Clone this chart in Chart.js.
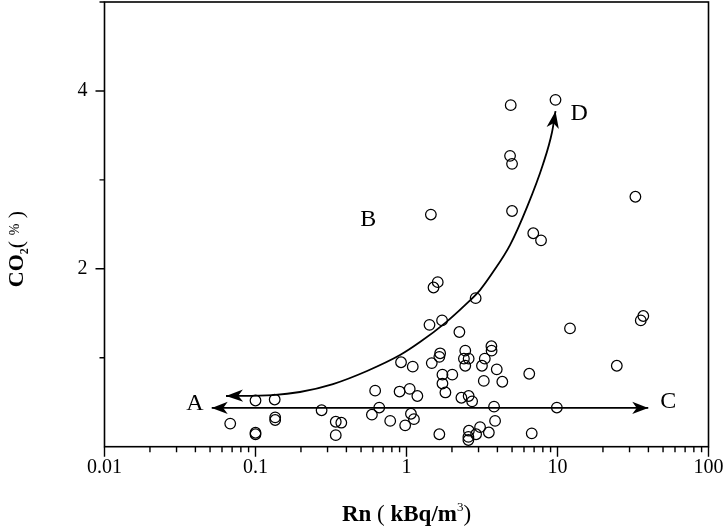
<!DOCTYPE html>
<html>
<head>
<meta charset="utf-8">
<title>Rn vs CO2</title>
<script src="https://cdn.jsdelivr.net/npm/chart.js@4.4.0/dist/chart.umd.min.js"></script>
<style>
  html, body { margin: 0; padding: 0; background: #fff; }
  canvas { display: block; }
</style>
</head>
<body>
<canvas id="rnChart" width="726" height="527"></canvas>
<script>
// ---- data ----
const rnKBq = [0.068, 0.100, 0.134, 0.135, 0.135, 0.100, 0.100, 0.274, 0.34, 0.37,
    0.34, 0.62, 0.66, 0.59, 0.78, 0.92, 1.10, 0.90, 1.05, 1.18,
    1.07, 1.12, 0.98, 1.47, 1.67, 1.65, 1.73, 2.01, 1.73, 1.81,
    2.45, 2.40, 2.58, 2.45, 3.65, 3.66, 3.30, 3.16, 3.96, 3.25,
    4.31, 2.31, 2.58, 2.72, 3.80, 3.86, 3.07, 2.59, 2.89, 3.51,
    2.57, 2.57, 1.65, 6.5, 6.75, 9.9, 12.1, 24.7, 35.6, 37.0,
    32.8, 1.42, 1.72, 2.24, 2.87, 1.61, 1.51, 1.45, 4.90, 9.7,
    4.85, 5.0, 5.0, 6.91, 7.78];
const co2Pct = [0.26, 0.52, 0.53, 0.33, 0.30, 0.157, 0.14, 0.41, 0.28, 0.27,
    0.13, 0.63, 0.44, 0.36, 0.29, 0.95, 0.90, 0.62, 0.65, 0.57,
    0.37, 0.31, 0.24, 0.94, 1.05, 1.01, 0.81, 0.81, 0.71, 0.61,
    1.08, 0.99, 0.99, 0.91, 1.13, 1.08, 0.99, 0.91, 0.87, 0.74,
    0.73, 0.55, 0.57, 0.51, 0.45, 0.29, 0.22, 0.18, 0.14, 0.16,
    0.11, 0.075, 0.14, 0.82, 0.15, 0.44, 1.33, 0.91, 1.42, 1.47,
    2.81, 1.37, 1.42, 1.29, 1.67, 1.85, 1.79, 2.61, 3.84, 3.90,
    3.27, 3.18, 2.65, 2.40, 2.32];

// curved arrow A <- ... -> D
const curveRn = [0.0638, 0.1306, 0.197, 0.326, 0.548, 0.906, 1.228, 1.799, 2.44, 3.068, 3.74, 4.846, 6.281, 8.017, 9.196, 9.70];
const curveCo2 = [0.570, 0.581, 0.615, 0.704, 0.851, 1.030, 1.176, 1.390, 1.592, 1.761, 1.963, 2.266, 2.693, 3.176, 3.536, 3.772];

// straight arrow A <-> C
const lineRn = [0.0513, 39.9];
const lineCo2 = [0.436, 0.436];

// letters
const noteText = ["A", "B", "C", "D"];
const noteRn = [0.0397, 0.558, 54.2, 13.94];
const noteCo2 = [0.488, 2.547, 0.506, 3.746];

// axes
const xMajorTicks = [0.01, 0.1, 1, 10, 100];
const xTickLabels = ["0.01", "0.1", "1", "10", "100"];
const yLabelTicks = [2, 4];
const yMinorTicks = [1, 3, 5];

const SERIF = '"Liberation Serif", "Times New Roman", serif';

// ---- helpers ----
function toXY(xs, ys) {
    return xs.map((x, i) => ({ x: x, y: ys[i] }));
}

function arrowHead(ctx, tip, from, len, half) {
    const ang = Math.atan2(tip.y - from.y, tip.x - from.x);
    ctx.save();
    ctx.translate(tip.x, tip.y);
    ctx.rotate(ang);
    ctx.beginPath();
    ctx.moveTo(0, 0);
    ctx.lineTo(-len, -half);
    ctx.lineTo(-len * 0.72, 0);
    ctx.lineTo(-len, half);
    ctx.closePath();
    ctx.fill();
    ctx.restore();
}

// draws a list of text runs (mixed fonts / sub / superscripts) centred on x
function drawRuns(ctx, runs, cx, baseY) {
    let total = 0;
    runs.forEach(r => { ctx.font = r.font; r.w = ctx.measureText(r.t).width; total += r.w; });
    let x = cx - total / 2;
    ctx.textAlign = "left";
    ctx.textBaseline = "alphabetic";
    runs.forEach(r => {
        ctx.font = r.font;
        ctx.fillText(r.t, x, baseY + (r.dy || 0));
        x += r.w;
    });
}

// ---- frame, ticks, arrows, notes, axis titles ----
const framePlugin = {
    id: "frame",
    afterDraw(chart) {
        const ctx = chart.ctx;
        const xs = chart.scales.x;
        const ys = chart.scales.y;
        const { left, right, top, bottom } = chart.chartArea;

        ctx.save();
        ctx.strokeStyle = "#000";
        ctx.fillStyle = "#000";

        // box
        ctx.lineWidth = 1.6;
        ctx.strokeRect(left, top, right - left, bottom - top);

        // x ticks
        ctx.lineWidth = 1.4;
        ctx.beginPath();
        xMajorTicks.forEach(v => {
            const px = xs.getPixelForValue(v);
            ctx.moveTo(px, bottom);
            ctx.lineTo(px, bottom + 10);
        });
        for (let k = 0; k < xMajorTicks.length - 1; k++) {
            for (let m = 2; m <= 9; m++) {
                const px = xs.getPixelForValue(m * xMajorTicks[k]);
                ctx.moveTo(px, bottom);
                ctx.lineTo(px, bottom + 5.5);
            }
        }
        // y ticks
        yLabelTicks.forEach(v => {
            const py = ys.getPixelForValue(v);
            ctx.moveTo(left, py);
            ctx.lineTo(left - 9, py);
        });
        yMinorTicks.forEach(v => {
            const py = ys.getPixelForValue(v);
            ctx.moveTo(left, py);
            ctx.lineTo(left - 5, py);
        });
        ctx.stroke();

        // arrow heads
        const px = (x, y) => ({ x: xs.getPixelForValue(x), y: ys.getPixelForValue(y) });
        const n = curveRn.length;
        arrowHead(ctx, px(curveRn[0], curveCo2[0]), px(curveRn[1], curveCo2[1]), 17, 6.2);
        arrowHead(ctx, px(curveRn[n - 1], curveCo2[n - 1]), px(curveRn[n - 2], curveCo2[n - 2]), 17, 6.2);
        arrowHead(ctx, px(lineRn[0], lineCo2[0]), px(lineRn[1], lineCo2[1]), 16, 6.2);
        arrowHead(ctx, px(lineRn[1], lineCo2[1]), px(lineRn[0], lineCo2[0]), 16, 6.2);

        // letters
        ctx.font = "24px " + SERIF;
        ctx.textAlign = "center";
        ctx.textBaseline = "middle";
        noteText.forEach((t, i) => {
            const p = px(noteRn[i], noteCo2[i]);
            ctx.fillText(t, p.x, p.y);
        });

        // x title
        drawRuns(ctx, [
            { t: "Rn", font: "bold 23px " + SERIF },
            { t: " ( ", font: "23px " + SERIF },
            { t: "kBq/m", font: "bold 23px " + SERIF },
            { t: "3", font: "13px " + SERIF, dy: -10 },
            { t: ")", font: "23px " + SERIF }
        ], (left + right) / 2, 521);

        // y title (rotated)
        ctx.save();
        ctx.translate(23, 249);
        ctx.rotate(-Math.PI / 2);
        drawRuns(ctx, [
            { t: "CO", font: "bold 22px " + SERIF },
            { t: "2", font: "bold 12px " + SERIF, dy: 5 },
            { t: "( ", font: "22px " + SERIF },
            { t: "%", font: "14px " + SERIF, dy: -4 },
            { t: " )", font: "22px " + SERIF }
        ], 0, 0);
        ctx.restore();

        ctx.restore();
    }
};

// ---- chart ----
Chart.defaults.font.family = SERIF;
Chart.defaults.color = "#000";

new Chart(document.getElementById("rnChart"), {
    type: "scatter",
    data: {
        datasets: [
            {
                data: toXY(rnKBq, co2Pct),
                pointStyle: "circle",
                pointRadius: 5.3,
                pointBorderWidth: 1.25,
                borderColor: "#000",
                backgroundColor: "rgba(0,0,0,0)"
            },
            {
                type: "line",
                data: toXY(curveRn, curveCo2),
                showLine: true,
                borderColor: "#000",
                borderWidth: 1.8,
                pointRadius: 0,
                cubicInterpolationMode: "monotone",
                fill: false
            },
            {
                type: "line",
                data: toXY(lineRn, lineCo2),
                showLine: true,
                borderColor: "#000",
                borderWidth: 1.6,
                pointRadius: 0,
                fill: false
            }
        ]
    },
    options: {
        responsive: false,
        animation: false,
        layout: { autoPadding: false, padding: { top: 2, right: 17.5, left: 0, bottom: 0 } },
        plugins: {
            legend: { display: false },
            tooltip: { enabled: false }
        },
        scales: {
            x: {
                type: "logarithmic",
                min: 0.01,
                max: 100,
                border: { display: false },
                grid: { color: "rgba(0,0,0,0)", drawOnChartArea: false, drawTicks: true, tickLength: 9 },
                ticks: {
                    autoSkip: false,
                    maxRotation: 0,
                    minRotation: 0,
                    padding: 0,
                    font: { size: 20, family: SERIF },
                    callback: (v) => {
                        const i = xMajorTicks.findIndex(t => Math.abs(t - v) / t < 1e-6);
                        return i >= 0 ? xTickLabels[i] : null;
                    }
                },
                afterFit: (s) => { s.height = 80.3; s.paddingLeft = 0; s.paddingRight = 0; }
            },
            y: {
                min: 0,
                max: 5,
                border: { display: false },
                grid: { color: "rgba(0,0,0,0)", drawOnChartArea: false, drawTicks: true, tickLength: 17 },
                ticks: {
                    stepSize: 1,
                    padding: 0,
                    font: { size: 20, family: SERIF },
                    callback: (v) => yLabelTicks.includes(v) ? String(v) : null
                },
                afterFit: (s) => { s.width = 104.5; s.paddingTop = 0; s.paddingBottom = 0; }
            }
        }
    },
    plugins: [framePlugin]
});
</script>
</body>
</html>
